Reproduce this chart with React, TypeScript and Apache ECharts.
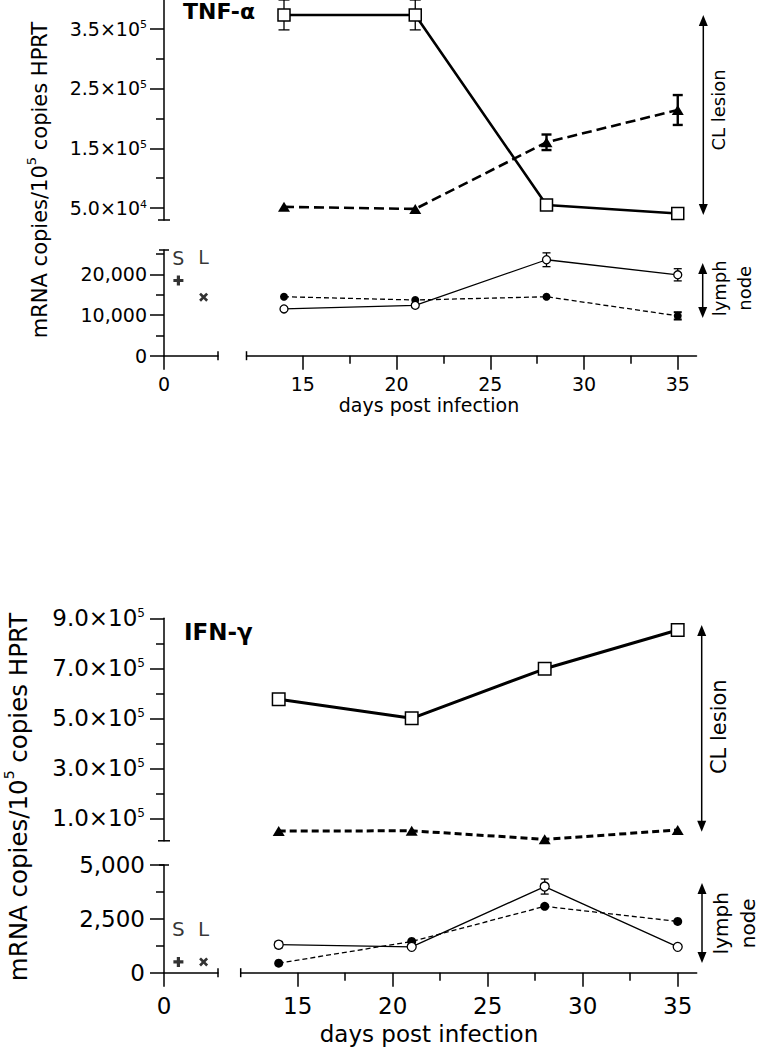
import React, { useEffect, useRef } from "react";
import * as echarts from "echarts";

const FONT = "'DejaVu Sans', sans-serif";
const INK = "#000";

// ---- x: days post infection ----
const days = [14, 21, 28, 35];
const dayTicks = [15, 20, 25, 30, 35];
const dayMinorTicks = [17.5, 22.5, 27.5, 32.5];
const zeroTick = [0];
const controlNames = ["S", "L"];
const controlDays = [0.8, 2.2];

// ---- TNF-α ----
const tnfLesionOpen = [373000, 373000, 55000, 41000];
const tnfLesionOpenErr = [25000, 25000, 0, 0];
const tnfLesionFilled = [52000, 48500, 160000, 214000];
const tnfLesionFilledErr = [0, 0, 13000, 25000];
const tnfNodeOpen = [11500, 12400, 23600, 19900];
const tnfNodeOpenErr = [0, 0, 1700, 1500];
const tnfNodeFilled = [14500, 13700, 14500, 9800];
const tnfNodeFilledErr = [0, 0, 0, 900];
const tnfControls = [18500, 14400];
const tnfLesionTicks = [50000, 150000, 250000, 350000];
const tnfLesionMinorTicks = [100000, 200000, 300000];
const tnfNodeTicks = [0, 10000, 20000];
const tnfNodeMinorTicks = [5000, 15000, 25000];

// ---- IFN-γ ----
const ifnLesionOpen = [576000, 500000, 698000, 853000];
const ifnLesionOpenErr = [0, 0, 0, 0];
const ifnLesionFilled = [49000, 50000, 16000, 53000];
const ifnLesionFilledErr = [0, 0, 0, 0];
const ifnNodeOpen = [1300, 1200, 4000, 1200];
const ifnNodeOpenErr = [150, 0, 350, 0];
const ifnNodeFilled = [440, 1450, 3080, 2380];
const ifnNodeFilledErr = [0, 0, 0, 0];
const ifnControls = [500, 500];
const ifnLesionTicks = [100000, 300000, 500000, 700000, 900000];
const ifnLesionMinorTicks = [200000, 400000, 600000, 800000];
const ifnNodeTicks = [0, 2500, 5000];
const ifnNodeMinorTicks = [1250, 3750];

const PLUS = "path://M3.4,0H6.6V3.4H10V6.6H6.6V10H3.4V6.6H0V3.4H3.4Z";
const CROSS =
  "path://M2.1,0L5,2.9L7.9,0L10,2.1L7.1,5L10,7.9L7.9,10L5,7.1L2.1,10L0,7.9L2.9,5L0,2.1Z";

const panels = [
  {
    title: "TNF-α",
    lesionOpen: tnfLesionOpen, lesionOpenErr: tnfLesionOpenErr,
    lesionFilled: tnfLesionFilled, lesionFilledErr: tnfLesionFilledErr,
    nodeOpen: tnfNodeOpen, nodeOpenErr: tnfNodeOpenErr,
    nodeFilled: tnfNodeFilled, nodeFilledErr: tnfNodeFilledErr,
    controls: tnfControls,
    lesionTicks: tnfLesionTicks, lesionMinor: tnfLesionMinorTicks,
    nodeTicks: tnfNodeTicks, nodeMinor: tnfNodeMinorTicks,
    L: {
      axisX: 164, rightLeft: 246.5, rightWidth: 450, leftWidth: 54,
      upTop: 0, upH: 220, upMin: 30000, upMax: 398000,
      loTop: 250, loH: 105.7, loMin: 0, loMax: 26000,
      fs: 19, sup: 11, supLH: 14, xMargin: 19, yMargin: 17,
      thick: 2.6, dash: [10, 5], sq: 12, tri: [12, 10], circ: 8,
      thin: 1.3, thinDash: [5, 3], ctrlDist: [8, 26], ctrlFs: 19,
      titleX: 183, titleY: 11.6, titleFs: 22,
      yTitleX: 39.5, yTitleY: 180, yTitleFs: 21, yTitleSup: 13, yTitleLH: 30, yTitleSupLH: 16,
      xTitleX: 429, xTitleY: 405, xTitleFs: 19,
      arrowUp: [703.3, 15, 215], arrowLo: [702.7, 263, 318],
      clX: 718.7, clY: 110, clFs: 18,
      lnX: 731.5, lnY: 288.3, lnFs: 18, lnLH: 25,
    },
  },
  {
    title: "IFN-γ",
    lesionOpen: ifnLesionOpen, lesionOpenErr: ifnLesionOpenErr,
    lesionFilled: ifnLesionFilled, lesionFilledErr: ifnLesionFilledErr,
    nodeOpen: ifnNodeOpen, nodeOpenErr: ifnNodeOpenErr,
    nodeFilled: ifnNodeFilled, nodeFilledErr: ifnNodeFilledErr,
    controls: ifnControls,
    lesionTicks: ifnLesionTicks, lesionMinor: ifnLesionMinorTicks,
    nodeTicks: ifnNodeTicks, nodeMinor: ifnNodeMinorTicks,
    L: {
      axisX: 164, rightLeft: 240.7, rightWidth: 456, leftWidth: 54,
      upTop: 618.3, upH: 222.5, upMin: 10000, upMax: 900000,
      loTop: 865, loH: 107.7, loMin: 0, loMax: 5000,
      fs: 23, sup: 12, supLH: 17, xMargin: 22, yMargin: 19,
      thick: 3, dash: [7, 4], sq: 12.5, tri: [12, 10], circ: 9,
      thin: 1.3, thinDash: [5, 3], ctrlDist: [18, 18], ctrlFs: 20,
      titleX: 184, titleY: 632, titleFs: 23,
      yTitleX: 18, yTitleY: 797, yTitleFs: 24.5, yTitleSup: 14, yTitleLH: 32, yTitleSupLH: 17,
      xTitleX: 429, xTitleY: 1034, xTitleFs: 23,
      arrowUp: [701.7, 625, 831.7], arrowLo: [702, 883, 963],
      clX: 719.3, clY: 726.7, clFs: 21,
      lnX: 734.5, lnY: 923.3, lnFs: 20, lnLH: 27,
    },
  },
];

function sciLabel(v: number) {
  const exp = Math.floor(Math.log10(v) + 1e-9);
  const mant = (v / Math.pow(10, exp)).toFixed(1);
  return `{b|${mant}×10}{s|${exp}}`;
}
function commaLabel(v: number) {
  return Math.round(v).toLocaleString("en-US");
}

function errorSeries(xi: number, yi: number, vals: number[], errs: number[], lw: number, cap: number) {
  const data = days.map((d, i) => [d, vals[i], errs[i]]).filter((r) => r[2] > 0);
  return {
    type: "custom",
    xAxisIndex: xi,
    yAxisIndex: yi,
    silent: true,
    z: 2,
    encode: { x: 0, y: 1 },
    data,
    renderItem: (_p: any, api: any) => {
      const x = api.value(0);
      const y = api.value(1);
      const e = api.value(2);
      const hi = api.coord([x, y + e]);
      const lo = api.coord([x, y - e]);
      const st = { stroke: INK, lineWidth: lw };
      return {
        type: "group",
        children: [
          { type: "line", shape: { x1: hi[0], y1: hi[1], x2: lo[0], y2: lo[1] }, style: st },
          { type: "line", shape: { x1: hi[0] - cap / 2, y1: hi[1], x2: hi[0] + cap / 2, y2: hi[1] }, style: st },
          { type: "line", shape: { x1: lo[0] - cap / 2, y1: lo[1], x2: lo[0] + cap / 2, y2: lo[1] }, style: st },
        ],
      };
    },
  };
}

function textEl(text: string, x: number, y: number, fontSize: number, o: any = {}) {
  const align = o.align || "center";
  return {
    type: "text",
    x,
    y,
    rotation: o.rotation || 0,
    silent: true,
    z: 10,
    style: {
      text,
      fontSize,
      fontFamily: FONT,
      fontWeight: o.bold ? "bold" : "normal",
      fill: INK,
      align,
      textAlign: align,
      verticalAlign: "middle",
      textVerticalAlign: "middle",
      lineHeight: o.lineHeight,
      rich: o.rich,
    },
  };
}

function arrowEl(x: number, y1: number, y2: number) {
  const hw = 4.5;
  const hl = 11;
  return {
    type: "group",
    silent: true,
    children: [
      { type: "line", shape: { x1: x, y1: y1 + 3, x2: x, y2: y2 - 3 }, style: { stroke: INK, lineWidth: 1.5 } },
      { type: "polygon", shape: { points: [[x, y1], [x - hw, y1 + hl], [x + hw, y1 + hl]] }, style: { fill: INK } },
      { type: "polygon", shape: { points: [[x, y2], [x - hw, y2 - hl], [x + hw, y2 - hl]] }, style: { fill: INK } },
    ],
  };
}

function buildOption() {
  const grids: any[] = [];
  const xAxis: any[] = [];
  const yAxis: any[] = [];
  const series: any[] = [];
  const graphic: any[] = [];
  const lineSt = { color: INK, width: 1.5 };

  panels.forEach((p) => {
    const L = p.L;
    const labelBase = { color: INK, fontFamily: FONT, fontSize: L.fs };
    const gU = grids.length;
    grids.push({ left: L.rightLeft, top: L.upTop, width: L.rightWidth, height: L.upH, outerBoundsMode: "none" });
    const gR = grids.length;
    grids.push({ left: L.rightLeft, top: L.loTop, width: L.rightWidth, height: L.loH, outerBoundsMode: "none" });
    const gL = grids.length;
    grids.push({ left: L.axisX, top: L.loTop, width: L.leftWidth, height: L.loH, outerBoundsMode: "none" });

    // x axes
    const xU = xAxis.length;
    xAxis.push({ gridIndex: gU, type: "value", min: 12, max: 36, show: false });
    const xR = xAxis.length;
    xAxis.push({
      gridIndex: gR, type: "value", min: 12, max: 36, position: "bottom",
      axisLine: { show: true, onZero: false, lineStyle: lineSt, symbol: ["rect", "none"], symbolSize: [9, 1.5] },
      axisTick: { show: true, customValues: dayTicks, length: 14, lineStyle: lineSt },
      axisLabel: { show: true, customValues: dayTicks, margin: L.xMargin, ...labelBase },
      splitLine: { show: false },
    });
    xAxis.push({
      gridIndex: gR, type: "value", min: 12, max: 36, position: "bottom",
      axisLine: { show: false, onZero: false },
      axisTick: { show: true, customValues: dayMinorTicks, length: 8, lineStyle: lineSt },
      axisLabel: { show: false },
      splitLine: { show: false },
    });
    const xL = xAxis.length;
    xAxis.push({
      gridIndex: gL, type: "value", min: 0, max: 3, position: "bottom",
      axisLine: { show: true, onZero: false, lineStyle: lineSt, symbol: ["none", "rect"], symbolSize: [9, 1.5] },
      axisTick: { show: true, customValues: zeroTick, length: 14, lineStyle: lineSt },
      axisLabel: { show: true, customValues: zeroTick, margin: L.xMargin, ...labelBase },
      splitLine: { show: false },
    });

    // y axes
    const yU = yAxis.length;
    yAxis.push({
      gridIndex: gU, type: "value", min: L.upMin, max: L.upMax, position: "left",
      offset: L.rightLeft - L.axisX,
      axisLine: { show: true, onZero: false, lineStyle: lineSt, symbol: ["rect", "none"], symbolSize: [12, 1.5] },
      axisTick: { show: true, customValues: p.lesionTicks, length: 14, lineStyle: lineSt },
      axisLabel: {
        show: true, customValues: p.lesionTicks, margin: L.yMargin, formatter: sciLabel, color: INK,
        rich: {
          b: { fontSize: L.fs, fontFamily: FONT, color: INK, lineHeight: L.fs },
          s: { fontSize: L.sup, fontFamily: FONT, color: INK, lineHeight: L.supLH, verticalAlign: "top" },
        },
      },
      splitLine: { show: false },
    });
    yAxis.push({
      gridIndex: gU, type: "value", min: L.upMin, max: L.upMax, position: "left",
      offset: L.rightLeft - L.axisX,
      axisLine: { show: false, onZero: false },
      axisTick: { show: true, customValues: p.lesionMinor, length: 8, lineStyle: lineSt },
      axisLabel: { show: false },
      splitLine: { show: false },
    });
    const yR = yAxis.length;
    yAxis.push({ gridIndex: gR, type: "value", min: L.loMin, max: L.loMax, show: false });
    const yL = yAxis.length;
    yAxis.push({
      gridIndex: gL, type: "value", min: L.loMin, max: L.loMax, position: "left",
      axisLine: { show: true, onZero: false, lineStyle: lineSt, symbol: ["none", "rect"], symbolSize: [10, 1.5] },
      axisTick: { show: true, customValues: p.nodeTicks, length: 14, lineStyle: lineSt },
      axisLabel: { show: true, customValues: p.nodeTicks, margin: L.yMargin, formatter: commaLabel, ...labelBase },
      splitLine: { show: false },
    });
    yAxis.push({
      gridIndex: gL, type: "value", min: L.loMin, max: L.loMax, position: "left",
      axisLine: { show: false, onZero: false },
      axisTick: { show: true, customValues: p.nodeMinor, length: 8, lineStyle: lineSt },
      axisLabel: { show: false },
      splitLine: { show: false },
    });

    const pts = (v: number[]) => days.map((d, i) => [d, v[i]]);

    // CL lesion
    series.push({
      type: "line", xAxisIndex: xU, yAxisIndex: yU, data: pts(p.lesionOpen), silent: true, z: 4,
      symbol: "rect", symbolSize: L.sq, showSymbol: true,
      itemStyle: { color: "#fff", borderColor: INK, borderWidth: 1.5 },
      lineStyle: { color: INK, width: L.thick },
    });
    series.push(errorSeries(xU, yU, p.lesionOpen, p.lesionOpenErr, 1.3, 11));
    series.push({
      type: "line", xAxisIndex: xU, yAxisIndex: yU, data: pts(p.lesionFilled), silent: true, z: 3,
      symbol: "triangle", symbolSize: L.tri, showSymbol: true,
      itemStyle: { color: INK, borderWidth: 0 },
      lineStyle: { color: INK, width: L.thick, type: L.dash },
    });
    series.push(errorSeries(xU, yU, p.lesionFilled, p.lesionFilledErr, 2.4, 10));

    // lymph node
    series.push({
      type: "line", xAxisIndex: xR, yAxisIndex: yR, data: pts(p.nodeOpen), silent: true, z: 4,
      symbol: "circle", symbolSize: L.circ, showSymbol: true,
      itemStyle: { color: "#fff", borderColor: INK, borderWidth: 1.3 },
      lineStyle: { color: INK, width: L.thin },
    });
    series.push(errorSeries(xR, yR, p.nodeOpen, p.nodeOpenErr, 1.3, 8));
    series.push({
      type: "line", xAxisIndex: xR, yAxisIndex: yR, data: pts(p.nodeFilled), silent: true, z: 3,
      symbol: "circle", symbolSize: L.circ, showSymbol: true,
      itemStyle: { color: INK, borderWidth: 0 },
      lineStyle: { color: INK, width: L.thin, type: L.thinDash },
    });
    series.push(errorSeries(xR, yR, p.nodeFilled, p.nodeFilledErr, 2, 8));

    // uninfected controls
    series.push({
      type: "scatter", xAxisIndex: xL, yAxisIndex: yL, silent: true, z: 4,
      data: controlNames.map((n, i) => ({
        name: n,
        value: [controlDays[i], p.controls[i]],
        symbol: i === 0 ? PLUS : CROSS,
        symbolSize: i === 0 ? 10 : 9,
        label: { distance: L.ctrlDist[i] },
      })),
      itemStyle: { color: INK },
      label: {
        show: true, position: "top", formatter: "{b}",
        color: INK, fontFamily: FONT, fontSize: L.ctrlFs,
      },
    });

    // annotations
    graphic.push(textEl(p.title, L.titleX, L.titleY, L.titleFs, { bold: true, align: "left" }));
    graphic.push(
      textEl("mRNA copies/10{s|5} copies HPRT", L.yTitleX, L.yTitleY, L.yTitleFs, {
        rotation: Math.PI / 2,
        lineHeight: L.yTitleLH,
        rich: {
          s: { fontSize: L.yTitleSup, fontFamily: FONT, fill: INK, lineHeight: L.yTitleSupLH, verticalAlign: "top" },
        },
      })
    );
    graphic.push(textEl("days post infection", L.xTitleX, L.xTitleY, L.xTitleFs));
    graphic.push(arrowEl(L.arrowUp[0], L.arrowUp[1], L.arrowUp[2]));
    graphic.push(arrowEl(L.arrowLo[0], L.arrowLo[1], L.arrowLo[2]));
    graphic.push(textEl("CL lesion", L.clX, L.clY, L.clFs, { rotation: Math.PI / 2 }));
    graphic.push(textEl("lymph\nnode", L.lnX, L.lnY, L.lnFs, { rotation: Math.PI / 2, lineHeight: L.lnLH }));
  });

  return {
    animation: false,
    backgroundColor: "#fff",
    textStyle: { fontFamily: FONT },
    grid: grids,
    xAxis,
    yAxis,
    series,
    graphic: { elements: graphic },
  };
}

export default function App() {
  const ref = useRef<HTMLDivElement>(null);
  useEffect(() => {
    document.body.style.margin = "0";
    const chart = echarts.init(ref.current as HTMLDivElement, null, { renderer: "svg" });
    chart.setOption(buildOption() as any);
    return () => chart.dispose();
  }, []);
  return <div ref={ref} style={{ width: 760, height: 1048, background: "#fff" }} />;
}
